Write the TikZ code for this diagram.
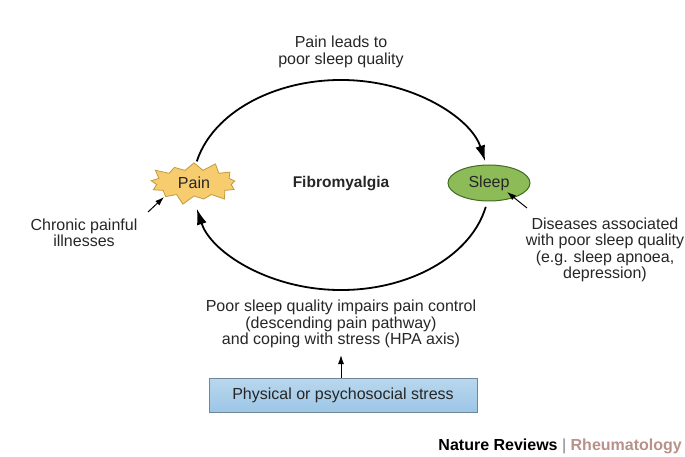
\documentclass[tikz,border=0pt]{standalone}
\usepackage{fontspec}
\setmainfont{Liberation Sans}
\usetikzlibrary{shapes.symbols,shapes.geometric,arrows.meta}
\definecolor{painfill}{HTML}{F7CC6E}
\definecolor{painline}{HTML}{C49A3C}
\definecolor{sleepfill}{HTML}{8DBB58}
\definecolor{sleepline}{HTML}{3F6B22}
\definecolor{boxfill}{HTML}{9CC6E6}
\definecolor{boxline}{HTML}{6F8797}
\definecolor{rheum}{HTML}{B8918A}
\begin{document}
\begin{tikzpicture}[x=1pt,y=-1pt,
  lbl/.style={font=\fontsize{16}{16.5}\selectfont, align=center, text=black!85},
  small/.style={-{Latex[length=9pt,width=6pt]}, line width=1pt}]
\useasboundingbox (0,0) rectangle (685,457);
\draw[line width=1.8pt, -{Latex[length=16pt,width=10pt]}] ([shift={(193:148 and 105)}]341,185) arc[start angle=193,end angle=347,x radius=148,y radius=105];
\draw[line width=1.8pt, -{Latex[length=16pt,width=10pt]}] ([shift={(12:148 and 105)}]341,185) arc[start angle=12,end angle=167,x radius=148,y radius=105];
\node[starburst, starburst points=13, starburst point height=10pt, minimum width=95pt, minimum height=46pt, inner sep=0pt,
  draw=painline, fill=painfill, line width=0.8pt, lbl] (pain) at (194,183) {Pain};
\node[ellipse, minimum width=82pt, minimum height=36pt, inner sep=0pt, draw=sleepline, fill=sleepfill, line width=1pt, lbl] (sleep) at (489,183) {Sleep};
\node[lbl, font=\bfseries\fontsize{15.5}{16}\selectfont] (fib) at (341,184) {Fibromyalgia};
\node[lbl] (top) at (341,52) {Pain leads to\\poor sleep quality};
\node[lbl] (bot) at (341,324) {Poor sleep quality impairs pain control\\(descending pain pathway)\\and coping with stress (HPA axis)};
\node[lbl] (chronic) at (84,233) {Chronic painful\\illnesses};
\node[lbl] (dis) at (605,250) {Diseases associated\\with poor sleep quality\\(e.g. sleep apnoea,\\depression)};
\node[draw=boxline, line width=0.8pt, top color=boxfill!70!white, bottom color=boxfill, minimum width=268pt, minimum height=34pt, lbl] (stress) at (343,395) {Physical or psychosocial stress};
\coordinate (ca) at (148,212);
\coordinate (da) at (527,208);
\coordinate (bt) at (341,355);
\draw[small] (ca) -- (164,197);
\draw[small] (da) -- (507,192);
\draw[small] (341,378) -- (bt);
\node[anchor=base east, font=\bfseries\fontsize{16}{17}\selectfont, inner sep=0pt] (nr) at (682,450) {Nature Reviews \textcolor{black!50}{\mdseries|} \textcolor{rheum}{Rheumatology}};
\end{tikzpicture}
\end{document}
